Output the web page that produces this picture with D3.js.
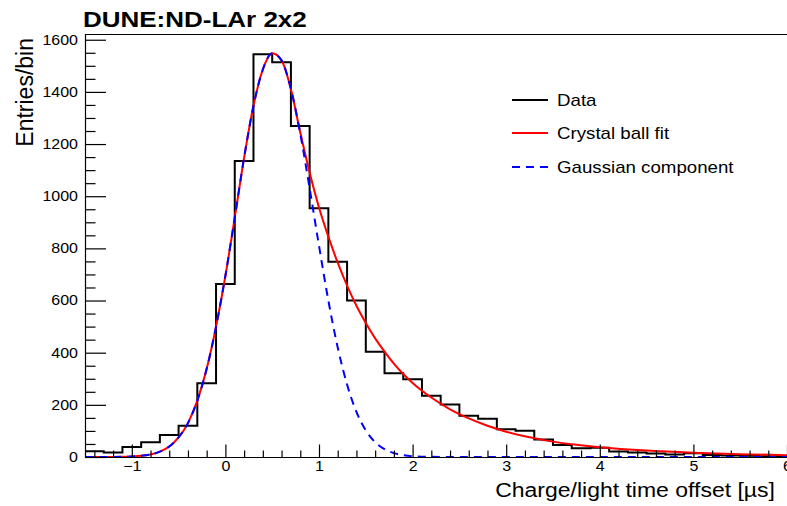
<!DOCTYPE html>
<html><head><meta charset="utf-8">
<script src="https://cdn.jsdelivr.net/npm/d3@7"></script>
<style>
body{margin:0;background:#fff;}
svg{display:block;}
text{font-family:"Liberation Sans",Arial,Helvetica,sans-serif;fill:#000;}
</style>
</head><body><svg id="c" width="787" height="506"></svg>
<script>
// ---- data ----
const binCenters = [-1.4,-1.2,-1.0,-0.8,-0.6,-0.4,-0.2,0.0,0.2,0.4,0.6,0.8,1.0,1.2,1.4,1.6,1.8,2.0,2.2,2.4,2.6,2.8,3.0,3.2,3.4,3.6,3.8,4.0,4.2,4.4,4.6,4.8,5.0,5.2,5.4,5.6,5.8,6.0];
const binCounts  = [22,17,38,57,84,120,283,663,1135,1544,1514,1269,954,749,600,404,321,298,235,201,158,147,106,101,67,46,34,35,21,17,13,10,14,8,6,5,3,2];
const binWidth = 0.2;

const fitX = [-1.5,-1.3,-1.2,-1.1,-1.0,-0.9,-0.8,-0.7,-0.6,-0.5,-0.4,-0.3,-0.2,-0.1,0.0,0.1,0.2,0.3,0.4,0.5,0.6,0.7,0.8,0.9,1.0,1.1,1.2,1.3,1.4,1.5,1.6,1.7,1.8,1.9,2.0,2.2,2.4,2.6,2.8,3.0,3.25,3.5,3.75,4.0,4.5,5.0,5.5,6.0];
const fitY = [0,0.05,0.3,0.8,1.9,4.4,9.8,20.5,40,75,130,216,338,500,695,918,1148,1347,1486,1548,1521,1411,1244,1091,957,845,745,657,580,514,455,404,358,318,284,228,183,148,120,97,76,59,47,37.5,24.5,16.5,11,7];

const gausX = [-1.5,-1.3,-1.2,-1.1,-1.0,-0.9,-0.8,-0.7,-0.6,-0.5,-0.4,-0.3,-0.2,-0.1,0.0,0.1,0.2,0.3,0.4,0.5,0.6,0.7,0.8,0.9,1.0,1.1,1.2,1.3,1.4,1.5,1.6,1.7,1.8,1.9,2.0,2.2,2.5,6.0];
const gausY = [0,0.05,0.3,0.8,1.9,4.4,9.8,20.5,40,75,130,216,338,500,695,918,1148,1347,1486,1548,1521,1411,1240,1030,810,600,420,278,173,102,57,30,15,7,3,0.5,0,0];

const xTicks = [-1,0,1,2,3,4,5,6];
const yTicks = [0,200,400,600,800,1000,1200,1400,1600];
const legendLabels = ["Data","Crystal ball fit","Gaussian component"];
const legendColors = ["#000000","#ff0000","#0000ff"];
const titleText = "DUNE:ND-LAr 2x2";
const xTitle = "Charge/light time offset [\u00b5s]";
const yTitle = "Entries/bin";

// ---- layout ----
const F = {l:85, r:787, t:34, b:457};
const svg = d3.select("#c");
const x = d3.scaleLinear().domain([-1.5,6]).range([F.l,F.r]);
const y = d3.scaleLinear().domain([0,1622]).range([F.b,F.t]);
const K = 0.86; // vertical squash of glyphs

svg.append("defs").append("clipPath").attr("id","clip")
  .append("rect").attr("x",F.l).attr("y",F.t).attr("width",F.r-F.l+5).attr("height",F.b-F.t+2);

// histogram
const hp = d3.path();
binCenters.forEach((c,i)=>{
  const lo = x(c-binWidth/2), hi = x(c+binWidth/2), v = y(binCounts[i]);
  if(i===0){ hp.moveTo(lo, y(0)); }
  hp.lineTo(lo, v); hp.lineTo(hi, v);
});
hp.lineTo(x(binCenters[binCenters.length-1]+binWidth/2), y(0));

const plot = svg.append("g").attr("clip-path","url(#clip)");
plot.append("path").attr("d",hp.toString()).attr("fill","none")
  .attr("stroke","#000").attr("stroke-width",2).attr("stroke-linejoin","miter");

const line = d3.line().x(d=>x(d[0])).y(d=>y(d[1])).curve(d3.curveMonotoneX);
plot.append("path").attr("d",line(fitX.map((v,i)=>[v,fitY[i]])))
  .attr("fill","none").attr("stroke","#ff0000").attr("stroke-width",2);
plot.append("path").attr("d",line(gausX.map((v,i)=>[v,gausY[i]])))
  .attr("fill","none").attr("stroke","#0000ff").attr("stroke-width",2)
  .attr("stroke-dasharray","8,6");

// frame
svg.append("path").attr("d",`M${F.l+0.5},${F.b+0.5}V${F.t+0.5}H${F.r+5}`)
  .attr("fill","none").attr("stroke","#000").attr("stroke-width",1.2);
svg.append("line").attr("x1",F.l).attr("x2",F.r+5).attr("y1",F.b+0.5).attr("y2",F.b+0.5)
  .attr("stroke","#000").attr("stroke-width",1.2);

// y axis
const yMinor = d3.range(0,1622,50).filter(v=>v%200!==0);
const ya = svg.append("g").attr("transform",`translate(${F.l},0)`)
  .call(d3.axisLeft(y).tickValues(yTicks).tickSize(-21).tickPadding(7).tickFormat(d3.format("d")));
ya.select(".domain").remove();
ya.selectAll("line").attr("stroke","#000").attr("stroke-width",1.2);
ya.selectAll("text").attr("font-size",16).attr("font-family",null).attr("transform",`scale(1,${K})`);
const ym = svg.append("g").attr("transform",`translate(${F.l},0)`)
  .call(d3.axisLeft(y).tickValues(yMinor).tickSize(-10.5).tickFormat(""));
ym.select(".domain").remove();
ym.selectAll("line").attr("stroke","#000").attr("stroke-width",1.2);

// x axis
const xMinor = d3.range(-1.4,6.01,0.2).filter(v=>Math.abs(v-Math.round(v))>1e-6);
const xa = svg.append("g").attr("transform",`translate(0,${F.b})`)
  .call(d3.axisBottom(x).tickValues(xTicks).tickSize(-12.5).tickPadding(5));
xa.select(".domain").remove();
xa.selectAll("line").attr("stroke","#000").attr("stroke-width",1.2);
xa.selectAll("text").attr("font-size",16).attr("font-family",null).attr("transform",`scale(1,${K})`);
const xm = svg.append("g").attr("transform",`translate(0,${F.b})`)
  .call(d3.axisBottom(x).tickValues(xMinor).tickSize(-6.5).tickFormat(""));
xm.select(".domain").remove();
xm.selectAll("line").attr("stroke","#000").attr("stroke-width",1.2);

// titles
svg.append("text").attr("transform",`translate(83,27) scale(1,0.88)`)
  .attr("font-size",26).attr("font-weight","bold").text(titleText);
svg.append("text").attr("transform",`translate(775,497) scale(1,${K})`)
  .attr("text-anchor","end").attr("font-size",23).text(xTitle);
svg.append("text").attr("transform",`translate(33,38) rotate(-90)`)
  .attr("text-anchor","end").attr("font-size",23).text(yTitle);

// legend
const rows = [100,133,167];
const lg = svg.append("g");
legendLabels.forEach((lab,i)=>{
  const l = lg.append("line").attr("x1",512).attr("x2",548).attr("y1",rows[i]).attr("y2",rows[i])
    .attr("stroke",legendColors[i]).attr("stroke-width",2);
  if(i===2) l.attr("stroke-dasharray","8,6");
  lg.append("text").attr("transform",`translate(557,${rows[i]+5.6}) scale(1,0.84)`)
    .attr("font-size",18.7).text(lab);
});
</script>
</body></html>
